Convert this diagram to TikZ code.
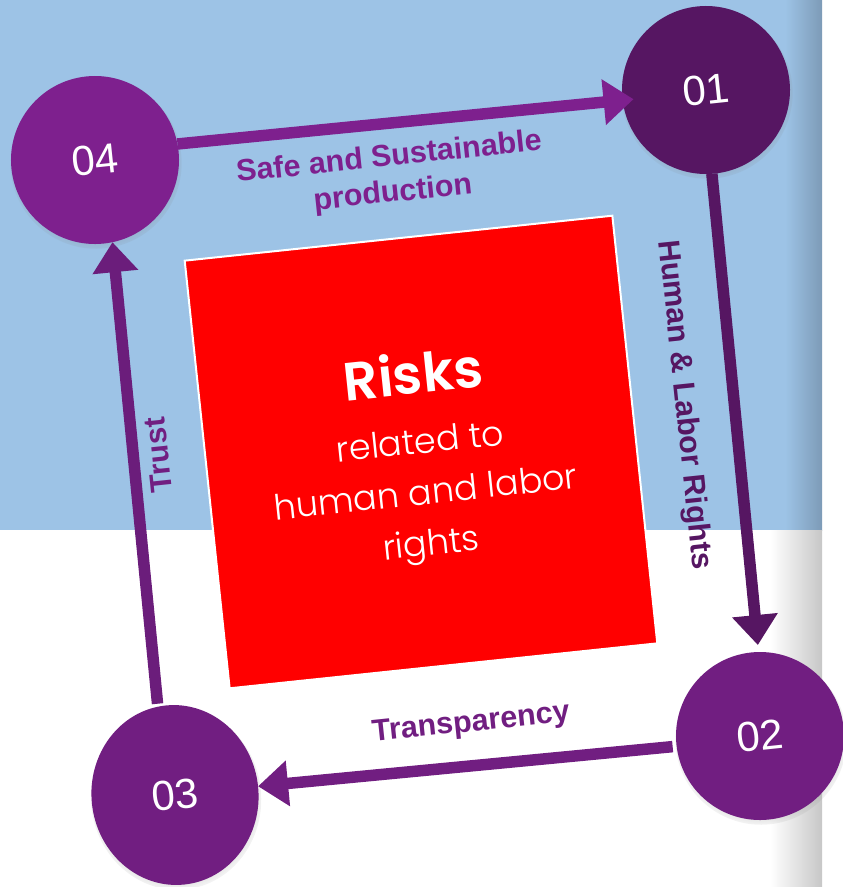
\documentclass[tikz,border=0pt]{standalone}
\usepackage{fontspec}
\setmainfont{Liberation Sans}
\newfontfamily\riskfont{Poppins}[UprightFont=* Light,BoldFont=* SemiBold]
\usetikzlibrary{arrows.meta,shadows,shapes.geometric}
\definecolor{skyblue}{HTML}{9DC3E6}
\definecolor{skyshade}{HTML}{7D9BB7}
\definecolor{plumdark}{HTML}{561662}
\definecolor{plumlight}{HTML}{7E208E}
\definecolor{plummid}{HTML}{711E81}
\tikzset{
	stepdot/.style={circle, minimum size=168pt, inner sep=0pt, outer sep=0pt, text=white,
		font=\fontsize{42}{42}\selectfont, rotate=6,
		circular drop shadow={shadow xshift=1pt, shadow yshift=-3pt, opacity=0.25, shadow scale=1.02}},
	flow/.style={line width=11.5pt, -{Triangle[length=30pt,width=44pt]}},
	flowtext/.style={font=\bfseries\fontsize{30.5}{36}\selectfont, align=center}
}

\begin{document}
\begin{tikzpicture}[x=1pt,y=-1pt]
			%%%%% START %%%%%
			\useasboundingbox (0,0) rectangle (843,887);
			
			\fill[skyblue] (0,0) rectangle (822,530);
			\shade[left color=skyblue, right color=skyshade] (785,0) rectangle (822,530);
			\shade[left color=white, right color=black!22] (770,530) rectangle (822,887);
			
			\node[stepdot, fill=plumdark] (s01) at (706,90) {01};
			\node[stepdot, fill=plummid] (s02) at (760,736) {02};
			\node[stepdot, ellipse, minimum width=167pt, minimum height=180pt, fill=plummid] (s03) at (175,795) {03};
			\node[stepdot, fill=plumlight] (s04) at (95,160) {04};
			
			\node[draw=white, line width=2pt, fill=red, minimum size=430pt, inner sep=0pt, rotate=6] (risk) at (421,452) {};
			\node[rotate=6, text=white, align=center, font=\riskfont\fontsize{35}{51}\selectfont] (risktext) at (422,458)
				{{\bfseries\fontsize{54}{51}\selectfont Risks}\\[9pt] related to\\ human and labor\\ rights};
			
			\draw[flow, plumlight, shorten >=-11pt] (s04.5) -- (s01.181);
			\draw[flow, plumdark, shorten >=7pt] (s01.268) -- (s02.85);
			\draw[flow, plummid, shorten <=4pt] (s02.181) -- (s03.0);
			\draw[flow, plummid!95!black, shorten <=3pt] (s03.95) -- (s04.-84);
			
			\node[flowtext, text=plumlight, rotate=6] (lsafe) at (391,176) {Safe and Sustainable\\ production};
			\node[font=\bfseries\fontsize{30.5}{31}\selectfont, text=plumdark, rotate=-84] (lhuman) at (684,405) {Human \& Labor Rights};
			\node[flowtext, text=plummid, rotate=6] (ltrans) at (471,724) {Transparency};
			\node[flowtext, text=plummid, rotate=96] (ltrust) at (158,455) {Trust};
			%%%%% END %%%%%
\end{tikzpicture}
\end{document}
